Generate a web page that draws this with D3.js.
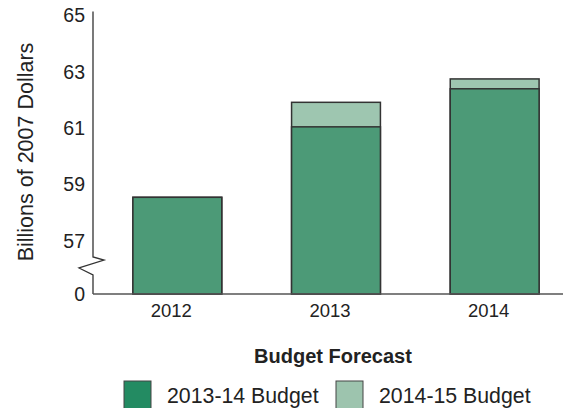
<!DOCTYPE html>
<html><head><meta charset="utf-8">
<script src="https://cdn.jsdelivr.net/npm/d3@7"></script>
<style>
html,body{margin:0;padding:0;background:#fff;}
svg text{font-family:"Liberation Sans",Arial,Helvetica,sans-serif;fill:#222;}
</style></head>
<body>
<svg id="chart" width="566" height="408"></svg>
<script>
const years = ["2012","2013","2014"];
const budget1314 = [58.55, 61.05, 62.4];
const budget1415 = [58.55, 61.92, 62.75];
const yTicks = [0, 57, 59, 61, 63, 65];
const seriesNames = ["2013-14 Budget","2014-15 Budget"];
const barColors = ["#4c9a77","#9ec6b0"];
const legendColors = ["#238b62","#9dc4ae"];

const svg = d3.select("#chart");
const axisX = 93, baseY = 294;
const x = d3.scaleBand().domain(years).range([98, 574]).paddingInner(0.44).paddingOuter(0.22);
const y = d3.scaleLinear().domain([0, 57, 65]).range([baseY, 241, 15.5]);

const g = svg.append("g");
g.selectAll("rect.light").data(years).join("rect")
  .attr("class","light")
  .attr("x", d => x(d)).attr("width", x.bandwidth())
  .attr("y", (d,i) => y(budget1415[i]))
  .attr("height", (d,i) => baseY - y(budget1415[i]))
  .attr("fill", barColors[1]).attr("stroke","#333").attr("stroke-width",1.5);
g.selectAll("rect.dark").data(years).join("rect")
  .attr("class","dark")
  .attr("x", d => x(d)).attr("width", x.bandwidth())
  .attr("y", (d,i) => y(budget1314[i]))
  .attr("height", (d,i) => baseY - y(budget1314[i]))
  .attr("fill", barColors[0]).attr("stroke","#333").attr("stroke-width",1.5);

const yAxis = d3.axisLeft(y).tickValues(yTicks).tickSize(0).tickPadding(8).tickFormat(d3.format("d"));
const ya = svg.append("g").attr("transform",`translate(${axisX},0)`).call(yAxis);
ya.select(".domain").remove();
ya.selectAll("text").attr("font-size",19.5).attr("fill","#222")
  .style("font-family","'Liberation Sans',Arial,sans-serif");

const b0 = y(57) + 16;
const axisPath = d3.path();
axisPath.moveTo(axisX, y(65) - 4);
axisPath.lineTo(axisX, b0);
axisPath.lineTo(axisX + 11, b0 + 3);
axisPath.lineTo(axisX - 14, b0 + 11);
axisPath.lineTo(axisX, b0 + 18);
axisPath.lineTo(axisX, baseY);
svg.append("path").attr("d", axisPath.toString()).attr("fill","none")
  .attr("stroke","#333").attr("stroke-width",1.3);

svg.append("line").attr("x1",axisX).attr("x2",563).attr("y1",baseY).attr("y2",baseY)
  .attr("stroke","#555").attr("stroke-width",1.5);

svg.append("g").selectAll("text").data(years).join("text")
  .attr("x", d => x(d) + x.bandwidth()/2 - 6).attr("y", 317)
  .attr("text-anchor","middle").attr("font-size",18.5).text(d => d);

svg.append("text").attr("transform","translate(33,152) rotate(-90)")
  .attr("text-anchor","middle").attr("font-size",21.5).text("Billions of 2007 Dollars");

svg.append("text").attr("x",333).attr("y",363).attr("text-anchor","middle")
  .attr("font-size",20).attr("font-weight","bold").text("Budget Forecast");

const legX = [124, 336];
const lg = svg.append("g");
seriesNames.forEach((n,i) => {
  lg.append("rect").attr("x",legX[i]).attr("y",381).attr("width",27).attr("height",28)
    .attr("fill",legendColors[i]).attr("stroke","#444").attr("stroke-width",1);
  lg.append("text").attr("x",legX[i]+43).attr("y",403).attr("font-size",21.3).text(n);
});
</script>
</body></html>
